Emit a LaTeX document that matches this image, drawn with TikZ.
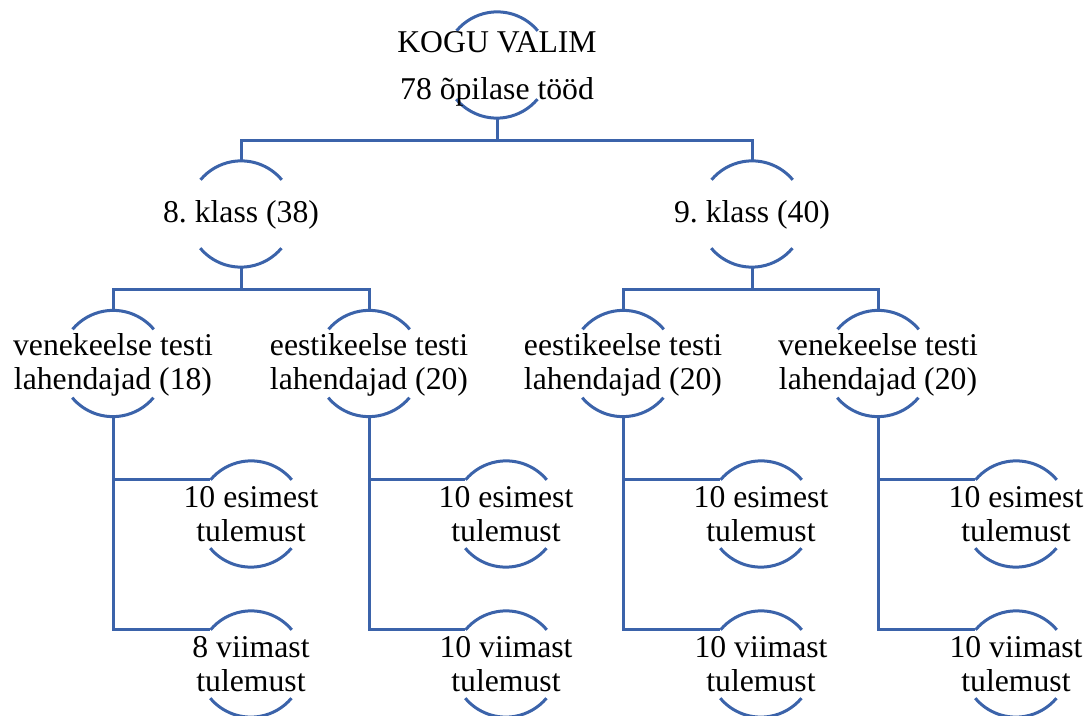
\documentclass[tikz,border=0pt]{standalone}
\usepackage{fontspec}
\setmainfont{Liberation Serif}
\frenchspacing
\definecolor{lineblue}{RGB}{59,99,170}
\tikzset{
  ring/.style={circle, minimum size=106pt, inner sep=0pt, draw=none},
  lbl/.style={align=center, inner sep=0pt, font=\fontsize{31.7}{34.5}\selectfont},
  toplbl/.style={align=center, inner sep=0pt, font=\fontsize{31.7}{47}\selectfont},
  conn/.style={draw=lineblue, line width=3pt},
}
\newcommand{\ringarcs}[1]{%
  \draw[conn] (#1.40) arc (40:140:53);
  \draw[conn] (#1.220) arc (220:320:53);
}
\begin{document}
\begin{tikzpicture}[x=1pt,y=1pt]
\useasboundingbox (0,0) rectangle (1089,715);
% rings
\node[ring] (top) at (497,650) {};
\node[ring] (k8) at (241,501) {};
\node[ring] (k9) at (752,501) {};
\node[ring] (a) at (113,351.5) {};
\node[ring] (b) at (369,351.5) {};
\node[ring] (c) at (623,351.5) {};
\node[ring] (d) at (878,351.5) {};
\node[ring] (a1) at (251,201) {};
\node[ring] (a2) at (251,51) {};
\node[ring] (b1) at (506,201) {};
\node[ring] (b2) at (506,51) {};
\node[ring] (c1) at (761,201) {};
\node[ring] (c2) at (761,51) {};
\node[ring] (d1) at (1016,201) {};
\node[ring] (d2) at (1016,51) {};
\foreach \n in {top,k8,k9,a,b,c,d,a1,a2,b1,b2,c1,c2,d1,d2}{\ringarcs{\n}}
% labels
\node[toplbl, yshift=-4pt] (ttop) at (top) {KOGU VALIM\\78 õpilase tööd};
\node[lbl, yshift=-1pt] (tk8) at (k8) {8. klass (38)};
\node[lbl, yshift=-1pt] (tk9) at (k9) {9. klass (40)};
\node[lbl, yshift=-1.5pt] (ta) at (a) {venekeelse testi\\lahendajad (18)};
\node[lbl, yshift=-1.5pt] (tb) at (b) {eestikeelse testi\\lahendajad (20)};
\node[lbl, yshift=-1.5pt] (tc) at (c) {eestikeelse testi\\lahendajad (20)};
\node[lbl, yshift=-1.5pt] (td) at (d) {venekeelse testi\\lahendajad (20)};
\node[lbl] (ta1) at (a1) {10 esimest\\tulemust};
\node[lbl] (ta2) at (a2) {8 viimast\\tulemust};
\node[lbl] (tb1) at (b1) {10 esimest\\tulemust};
\node[lbl] (tb2) at (b2) {10 viimast\\tulemust};
\node[lbl] (tc1) at (c1) {10 esimest\\tulemust};
\node[lbl] (tc2) at (c2) {10 viimast\\tulemust};
\node[lbl] (td1) at (d1) {10 esimest\\tulemust};
\node[lbl] (td2) at (d2) {10 viimast\\tulemust};
% connectors
\draw[conn] (top.south) -- ++(0,-22) -| (k8.north);
\draw[conn] (top.south) -- ++(0,-22) -| (k9.north);
\draw[conn] (k8.south) -- ++(0,-22) -| (a.north);
\draw[conn] (k8.south) -- ++(0,-22) -| (b.north);
\draw[conn] (k9.south) -- ++(0,-22) -| (c.north);
\draw[conn] (k9.south) -- ++(0,-22) -| (d.north);
\foreach \p in {a,b,c,d}{
  \draw[conn] (\p.south) |- (\p1.140);
  \draw[conn] (\p.south) |- (\p2.140);
}
\end{tikzpicture}
\end{document}
